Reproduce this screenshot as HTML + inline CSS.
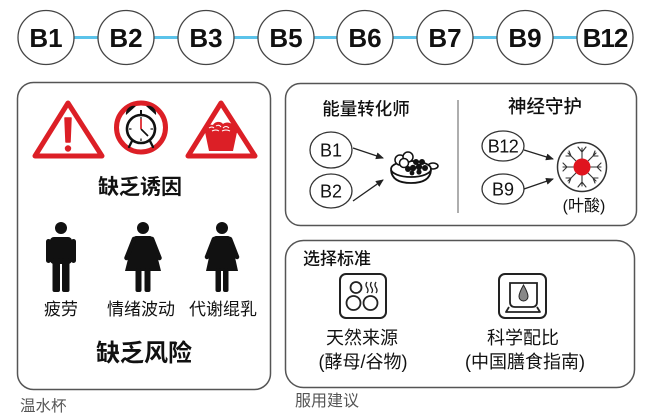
<!DOCTYPE html>
<html><head><meta charset="utf-8"><style>
html,body{margin:0;padding:0;background:#fff;}
svg{display:block;}
text{font-family:"Liberation Sans","Noto Sans CJK SC",sans-serif;fill:#111;}
</style></head><body>
<svg width="650" height="416" viewBox="0 0 650 416" xmlns="http://www.w3.org/2000/svg">
<defs>
<marker id="ah" markerWidth="8" markerHeight="8" refX="7" refY="4" orient="auto" markerUnits="userSpaceOnUse">
<path d="M0,0.5 L8,4 L0,7.5 Z" fill="#222"/>
</marker>
</defs>
<rect width="650" height="416" fill="#fff"/>
<!-- top chain -->
<line x1="46" y1="37.5" x2="605" y2="37.5" stroke="#5bc3ea" stroke-width="3"/>
<g fill="#fff" stroke="#444" stroke-width="1.3">
<ellipse cx="46" cy="37.5" rx="28" ry="27"/>
<ellipse cx="126" cy="37.5" rx="28" ry="27"/>
<ellipse cx="206" cy="37.5" rx="28" ry="27"/>
<ellipse cx="286" cy="37.5" rx="28" ry="27"/>
<ellipse cx="365" cy="37.5" rx="28" ry="27"/>
<ellipse cx="445" cy="37.5" rx="28" ry="27"/>
<ellipse cx="525" cy="37.5" rx="28" ry="27"/>
<ellipse cx="605" cy="37.5" rx="28" ry="27"/>
</g>
<g font-size="26" font-weight="bold" text-anchor="middle">
<text x="46" y="47">B1</text>
<text x="126" y="47">B2</text>
<text x="206" y="47">B3</text>
<text x="286" y="47">B5</text>
<text x="365" y="47">B6</text>
<text x="445" y="47">B7</text>
<text x="525" y="47">B9</text>
<text x="605" y="47" letter-spacing="-1">B12</text>
</g>

<!-- left panel -->
<rect x="17.5" y="82.5" width="253" height="307" rx="16" fill="none" stroke="#555" stroke-width="1.5"/>
<!-- triangle 1 -->
<path d="M68,103 L102,156 L35,156 Z" fill="none" stroke="#dc1f26" stroke-width="5" stroke-linejoin="round"/>
<path d="M65,118 L71,118 L70,142 L66,142 Z" fill="#dc1f26" stroke="#dc1f26" stroke-width="1.5" stroke-linejoin="round"/>
<circle cx="68" cy="148.5" r="3.2" fill="#dc1f26"/>
<!-- alarm clock -->
<circle cx="141" cy="127.5" r="24.5" fill="none" stroke="#dc1f26" stroke-width="5"/>
<path d="M126,115 A8,8 0 0 1 136,106 Z" fill="#111"/>
<path d="M156,115 A8,8 0 0 0 146,106 Z" fill="#111"/>
<line x1="141" y1="110" x2="141" y2="114" stroke="#111" stroke-width="2"/>
<circle cx="141" cy="129" r="14" fill="#fff" stroke="#111" stroke-width="2.6"/>
<g stroke="#111" stroke-width="1.2">
<line x1="141" y1="117" x2="141" y2="119.5"/><line x1="141" y1="138.5" x2="141" y2="141"/>
<line x1="129" y1="129" x2="131.5" y2="129"/><line x1="150.5" y1="129" x2="153" y2="129"/>
</g>
<line x1="141" y1="129" x2="148" y2="136" stroke="#111" stroke-width="1.7"/>
<line x1="141" y1="129" x2="141" y2="119" stroke="#dc1f26" stroke-width="1.7"/>
<line x1="132" y1="141" x2="129" y2="147" stroke="#111" stroke-width="2.3" stroke-linecap="round"/>
<line x1="150" y1="141" x2="153" y2="147" stroke="#111" stroke-width="2.3" stroke-linecap="round"/>
<!-- triangle 3 with basket -->
<path d="M221,103 L255,156 L188,156 Z" fill="none" stroke="#dc1f26" stroke-width="5" stroke-linejoin="round"/>
<path d="M205,132 L237,132 L233,151 L209,151 Z" fill="#dc1f26"/>
<path d="M205,133 C205,126 209,124 213,125 C215,121 221,121 223,124 C227,121 233,123 234,127 C237,128 238,131 237,133 Z" fill="#dc1f26"/>
<path d="M209,128 q3,-2 5,0 M216,126 q3,-2 5,1 M223,128 q3,-3 6,0 M212,131 q4,-2 7,0 M222,131 q4,-2 8,0" stroke="#fff" stroke-width="1" fill="none"/>
<text x="140" y="194" font-size="21" font-weight="bold" text-anchor="middle">缺乏诱因</text>

<!-- man -->
<g fill="#111">
<circle cx="61" cy="228" r="6"/>
<rect x="50" y="237" width="22" height="27" rx="4"/>
<rect x="46" y="239" width="5" height="24" rx="2.5"/>
<rect x="71" y="239" width="5" height="24" rx="2.5"/>
<rect x="52.5" y="258" width="7.5" height="34" rx="2"/>
<rect x="62" y="258" width="7.5" height="34" rx="2"/>
</g>
<!-- woman 1 -->
<g fill="#111">
<circle cx="143" cy="228" r="6"/>
<path d="M136,236 L150,236 Q152,236 153,239 L161,271 L125,271 L133,239 Q134,236 136,236 Z"/>
<line x1="134" y1="239" x2="126.5" y2="258" stroke="#111" stroke-width="4.5" stroke-linecap="round"/>
<line x1="152" y1="239" x2="159.5" y2="258" stroke="#111" stroke-width="4.5" stroke-linecap="round"/>
<rect x="135.5" y="268" width="6" height="24" rx="2"/>
<rect x="144.5" y="268" width="6" height="24" rx="2"/>
</g>
<!-- woman 2 -->
<g fill="#111">
<circle cx="222" cy="228" r="6"/>
<path d="M216,236 L228,236 Q230,236 231,239 L238,271 L206,271 L213,239 Q214,236 216,236 Z"/>
<line x1="214" y1="239" x2="207" y2="257" stroke="#111" stroke-width="4.5" stroke-linecap="round"/>
<line x1="230" y1="239" x2="237" y2="257" stroke="#111" stroke-width="4.5" stroke-linecap="round"/>
<rect x="215.5" y="268" width="5.5" height="24" rx="2"/>
<rect x="223" y="268" width="5.5" height="24" rx="2"/>
</g>
<g font-size="17" text-anchor="middle">
<text x="61" y="315">疲劳</text>
<text x="141" y="315">情绪波动</text>
<text x="223" y="315">代谢绲乳</text>
</g>
<text x="144" y="361" font-size="24" font-weight="bold" text-anchor="middle">缺乏风险</text>
<text x="20" y="411" font-size="15.5" style="fill:#555">温水杯</text>

<!-- right top panel -->
<rect x="285.5" y="83.5" width="351" height="142" rx="15" fill="none" stroke="#555" stroke-width="1.5"/>
<line x1="458" y1="100" x2="458" y2="213" stroke="#777" stroke-width="1.2"/>
<text x="366" y="115" font-size="17.5" font-weight="500" text-anchor="middle">能量转化师</text>
<text x="545" y="113" font-size="18.5" font-weight="500" text-anchor="middle">神经守护</text>
<g fill="#fff" stroke="#333" stroke-width="1.3">
<ellipse cx="331" cy="150" rx="21" ry="18"/>
<ellipse cx="331" cy="191" rx="21" ry="17"/>
<ellipse cx="503" cy="146" rx="21" ry="15"/>
<ellipse cx="503" cy="189" rx="21" ry="15"/>
</g>
<g font-size="18" text-anchor="middle">
<text x="331" y="156.5">B1</text>
<text x="331" y="197.5">B2</text>
<text x="503" y="152.5" letter-spacing="-0.5">B12</text>
<text x="503" y="195.5">B9</text>
</g>
<g stroke="#222" stroke-width="1.3" marker-end="url(#ah)">
<line x1="353" y1="148" x2="383" y2="158"/>
<line x1="353" y1="201" x2="383" y2="180"/>
<line x1="524" y1="150" x2="553" y2="159"/>
<line x1="524" y1="189" x2="553" y2="179"/>
</g>
<!-- bowl -->
<g>
<ellipse cx="433" cy="166" rx="5" ry="3" fill="#fff" stroke="#111" stroke-width="1.6"/>
<path d="M391,170 Q392,183 411,183 Q430,183 431,170" fill="#fff" stroke="#111" stroke-width="1.8"/>
<ellipse cx="411" cy="169" rx="20" ry="8" fill="#fff" stroke="#111" stroke-width="1.8"/>
<circle cx="400" cy="160" r="5" fill="#fff" stroke="#111" stroke-width="1.5"/>
<circle cx="408" cy="157" r="5" fill="#fff" stroke="#111" stroke-width="1.5"/>
<circle cx="404" cy="163" r="4.5" fill="#fff" stroke="#111" stroke-width="1.5"/>
<g fill="#111">
<circle cx="413" cy="168" r="3.2"/><circle cx="419" cy="167" r="3.2"/><circle cx="425" cy="168" r="3"/>
<circle cx="416" cy="162" r="3"/><circle cx="422" cy="162" r="3"/><circle cx="408" cy="169" r="3"/>
<circle cx="419" cy="172" r="2.6"/><circle cx="412" cy="173" r="2.4"/>
</g>
</g>
<!-- neuron -->
<circle cx="582" cy="167" r="24.5" fill="#fff" stroke="#333" stroke-width="1.5"/>
<g stroke="#333" stroke-width="1.1" fill="none" stroke-linecap="round">
<path d="M582,159 L582,148 M582,152 L578,147 M582,152 L586,147"/>
<path d="M582,175 L582,186 M582,182 L578,187 M582,182 L586,187"/>
<path d="M574,167 L563,167 M567,167 L563,163 M567,167 L563,171"/>
<path d="M590,167 L601,167 M597,167 L601,163 M597,167 L601,171"/>
<path d="M576,161 L568,153 M571,156 L569,151 M571,156 L566,156"/>
<path d="M588,161 L596,153 M593,156 L595,151 M593,156 L598,156"/>
<path d="M576,173 L568,181 M571,178 L566,178 M571,178 L569,183"/>
<path d="M588,173 L596,181 M593,178 L598,178 M593,178 L595,183"/>
</g>
<circle cx="582" cy="167" r="8.5" fill="#e0141e"/>
<text x="584" y="211" font-size="16" text-anchor="middle">(叶酸)</text>

<!-- right bottom panel -->
<rect x="285.5" y="240.5" width="349" height="147" rx="18" fill="none" stroke="#555" stroke-width="1.5"/>
<text x="303" y="264.5" font-size="17" font-weight="500">选择标准</text>
<rect x="340" y="274" width="46" height="44" rx="6" fill="none" stroke="#222" stroke-width="2"/>
<g fill="none" stroke="#222" stroke-width="1.8">
<circle cx="356" cy="287.5" r="5.5"/>
<circle cx="353.5" cy="303" r="7"/>
<circle cx="370.5" cy="303" r="7"/>
<path d="M367,282 q-2,3 0,5.5 q2,3 0,5.5 M371.5,282 q-2,3 0,5.5 q2,3 0,5.5 M376,282 q-2,3 0,5.5 q2,3 0,5.5" stroke-width="1.3"/>
</g>
<rect x="499" y="274" width="47" height="44" rx="6" fill="none" stroke="#222" stroke-width="2"/>
<path d="M510,283 L537,283 L537,302 Q537,307 532,307 L515,307 Q510,307 510,302 Z" fill="none" stroke="#222" stroke-width="1.8"/>
<path d="M509,307 L506,312 L540,312 L537,307" fill="none" stroke="#222" stroke-width="1.8" stroke-linejoin="round"/>
<path d="M523.5,285 Q519,293 519,296.5 A4.5,4.5 0 0 0 528,296.5 Q528,293 523.5,285 Z" fill="#888" stroke="#222" stroke-width="1"/>
<g font-size="18" text-anchor="middle">
<text x="362" y="344">天然来源</text>
<text x="363" y="368">(酵母/谷物)</text>
<text x="523" y="344">科学配比</text>
<text x="525" y="368">(中国膳食指南)</text>
</g>
<text x="295" y="406" font-size="16" style="fill:#555">服用建议</text>
</svg>
</body></html>
